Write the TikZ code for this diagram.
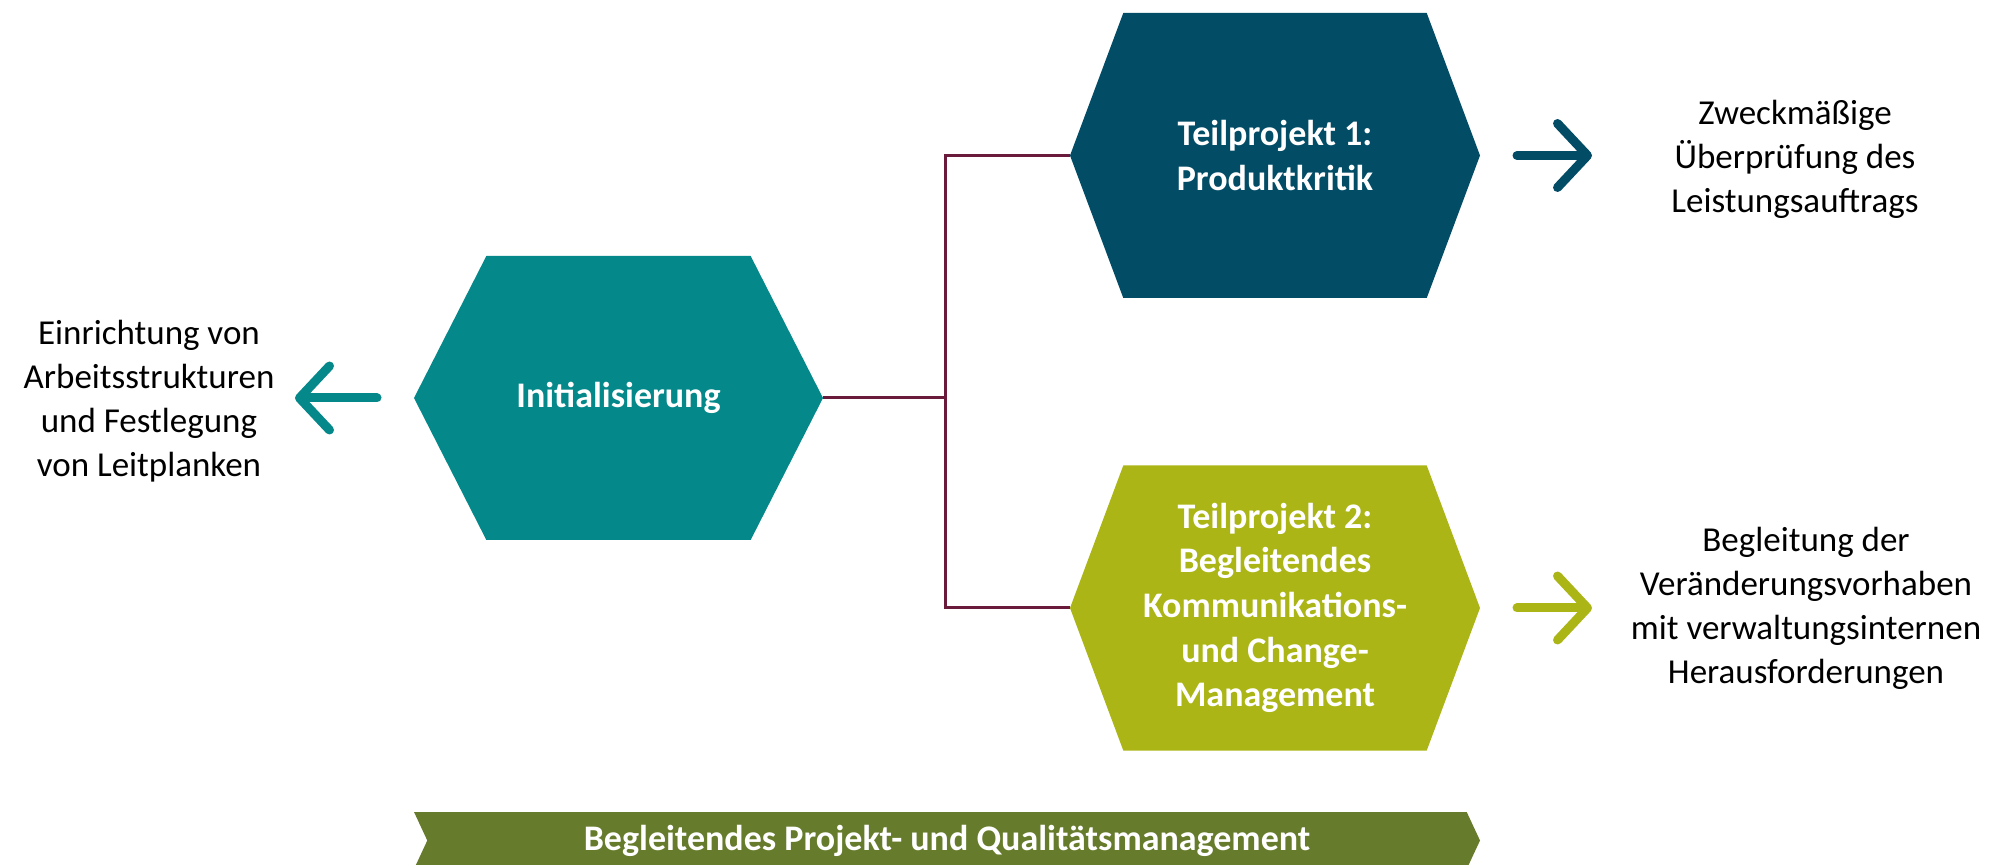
\documentclass[tikz,border=0pt]{standalone}
\usepackage{fontspec}
\setmainfont{Carlito}
\usetikzlibrary{shapes.symbols,arrows.meta,positioning}
\definecolor{initteal}{HTML}{05888A}
\definecolor{tpblue}{HTML}{024C66}
\definecolor{tpolive}{HTML}{ABB515}
\definecolor{bandgreen}{HTML}{667C2C}
\definecolor{linkred}{HTML}{6A1B3C}

\begin{document}
\begin{tikzpicture}[x=1pt,y=1pt,
    hexa/.style={signal, signal to=west and east, draw=none, text=white,
      font=\bfseries\fontsize{18}{22.3}\selectfont, align=center,
      inner sep=0pt, outer sep=0pt},
    outcome/.style={align=center, font=\fontsize{17.5}{22}\selectfont},
    pointer/.style={line width=4.5pt, line cap=round,
      -{Straight Barb[round,length=15pt,width=32pt]}},
    link/.style={draw=linkred, line width=1.5pt}]
  \useasboundingbox (0,0) rectangle (998.5,-432.5);

  \node[hexa, fill=initteal, minimum width=204.5pt, minimum height=142pt,
    signal pointer angle=126] (init) at (309.25,-199) {Initialisierung};
  \node[hexa, fill=tpblue, minimum width=205pt, minimum height=142.5pt,
    signal pointer angle=139] (tp1) at (637.5,-77.75)
    {Teilprojekt 1:\\Produktkritik};
  \node[hexa, fill=tpolive, minimum width=205pt, minimum height=142.5pt,
    signal pointer angle=139] (tp2) at (637.5,-304)
    {Teilprojekt 2:\\Begleitendes\\Kommunikations-\\und Change-\\Management};

  \node[signal, signal to=east, signal from=west, fill=bandgreen, text=white,
    font=\bfseries\fontsize{18}{22}\selectfont, inner sep=0pt, outer sep=0pt,
    minimum width=533pt, minimum height=28.5pt, signal pointer angle=130]
    (band) at (473.5,-420.25) {Begleitendes Projekt- und Qualitätsmanagement};

  \node[outcome] (setup) at (74.5,-200.5)
    {Einrichtung von\\Arbeitsstrukturen\\und Festlegung\\von Leitplanken};
  \node[outcome] (review) at (897.5,-79.5)
    {Zweckmäßige\\Überprüfung des\\Leistungsauftrags};
  \node[outcome] (change) at (903,-304)
    {Begleitung der\\Veränderungsvorhaben\\mit verwaltungsinternen\\Herausforderungen};

  \draw[link] (init.east) -- ++(61pt,0) coordinate (fork) |- (tp1.west);
  \draw[link] (fork) |- (tp2.west);

  \draw[pointer, draw=initteal] ([xshift=-18.5pt]init.west) -- ([xshift=-59.5pt]init.west);
  \draw[pointer, draw=tpblue] ([xshift=18.5pt]tp1.east) -- ([xshift=56pt]tp1.east);
  \draw[pointer, draw=tpolive] ([xshift=18.5pt]tp2.east) -- ([xshift=56pt]tp2.east);
\end{tikzpicture}
\end{document}
